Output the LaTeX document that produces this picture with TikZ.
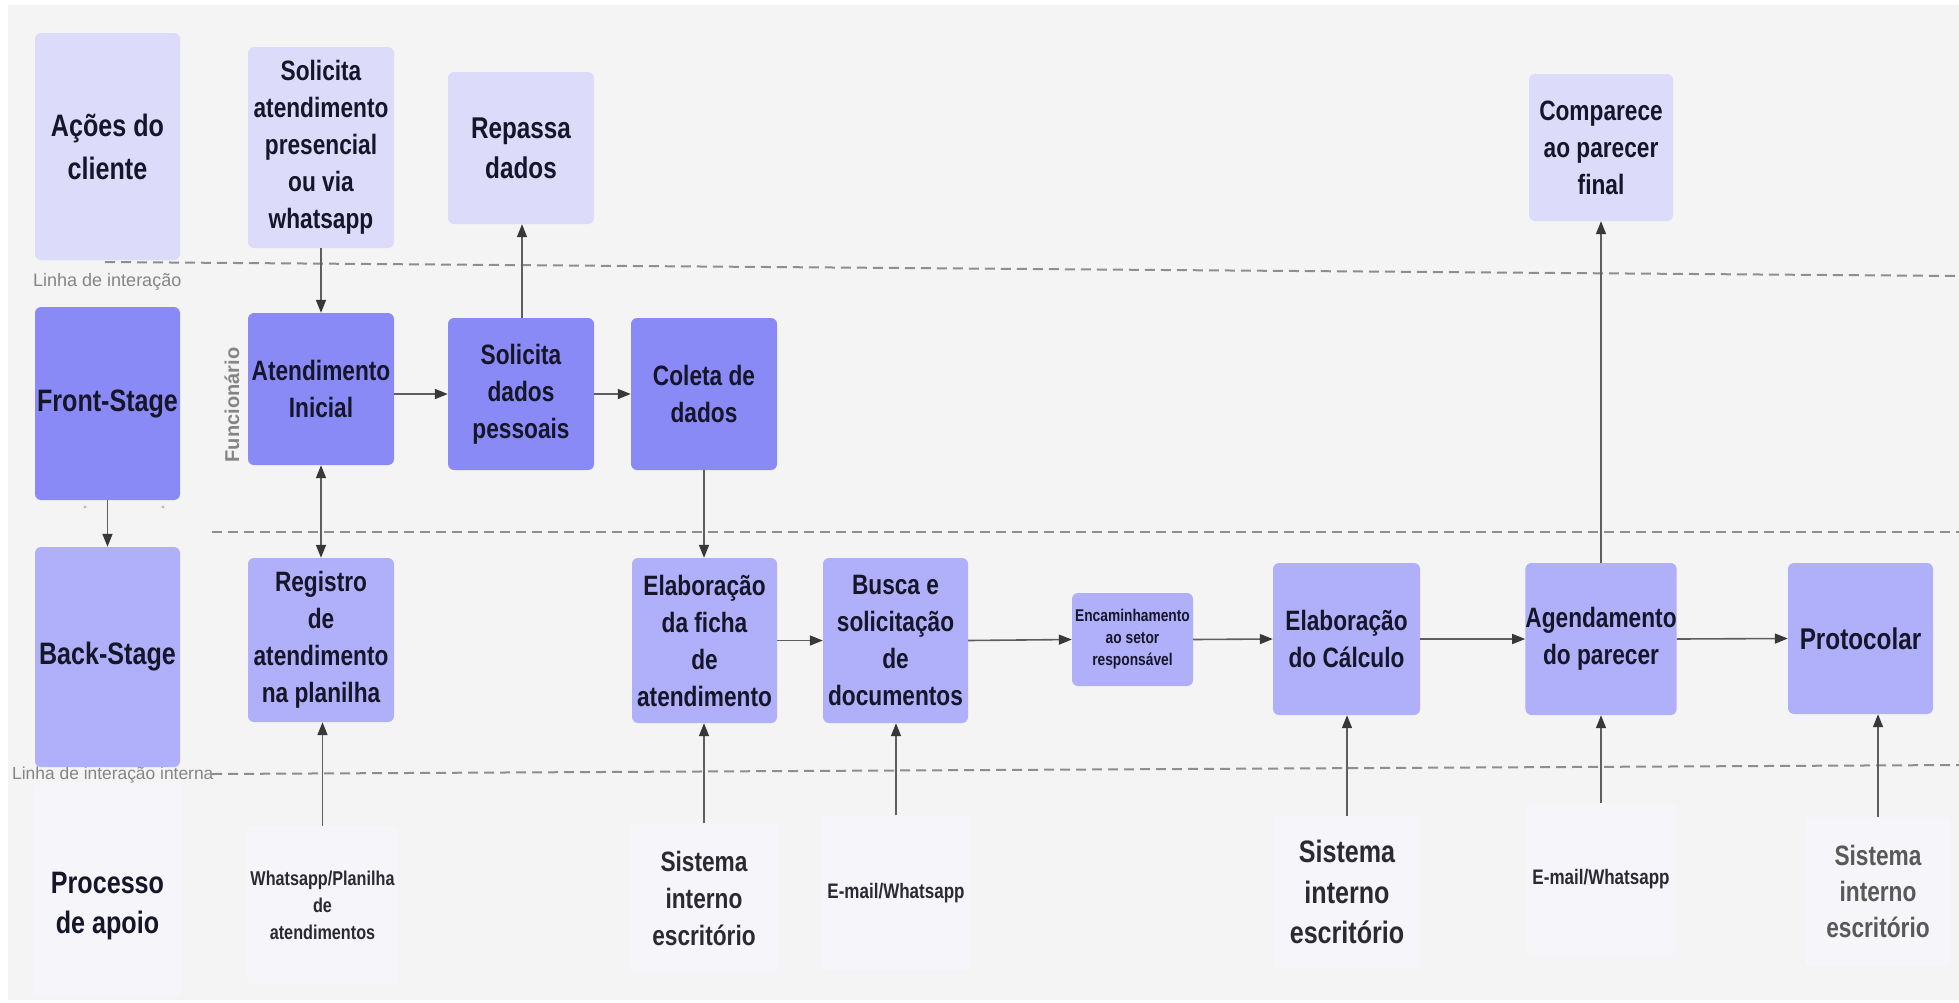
\documentclass[tikz,border=0pt]{standalone}
\usepackage{fontspec}
\setmainfont{Liberation Sans}
\newfontfamily\condfont{Liberation Sans}[FakeStretch=0.81]
\usetikzlibrary{arrows.meta}

\definecolor{canvas}{HTML}{F4F4F4}
\definecolor{clientbox}{HTML}{DCDCFA}
\definecolor{frontbox}{HTML}{8A8AF7}
\definecolor{backbox}{HTML}{B0B0FA}
\definecolor{supportbox}{HTML}{F5F5FA}
\definecolor{ink}{HTML}{16162A}
\definecolor{soft}{HTML}{2A2A30}
\definecolor{lineclr}{HTML}{8E8E8E}
\definecolor{arrowclr}{HTML}{5E5E5E}
\definecolor{tipclr}{HTML}{383838}
\definecolor{caption}{HTML}{858585}

\tikzset{
  box/.style={rectangle, rounded corners=6pt, draw=none, inner sep=0pt,
    align=center, text=ink,
    font=\condfont\bfseries\fontsize{28}{37}\selectfont},
  clientstep/.style={box, fill=clientbox},
  frontstep/.style={box, fill=frontbox},
  backstep/.style={box, fill=backbox},
  lanetitle/.style={box, font=\condfont\bfseries\fontsize{31}{43}\selectfont},
  panel/.style={rectangle, rounded corners=4pt, fill=supportbox, inner sep=0pt,
    align=center, text=soft},
  sepline/.style={draw=lineclr, line width=2pt, dash pattern=on 10pt off 6pt},
  flow/.style={draw=arrowclr, line width=1.6pt,
    -{Triangle[length=13pt,width=10pt,color=tipclr]}},
  twoway/.style={draw=arrowclr, line width=1.6pt,
    {Triangle[length=13pt,width=10pt,color=tipclr]}-{Triangle[length=13pt,width=10pt,color=tipclr]}},
  linelabel/.style={text=caption, inner sep=0pt, anchor=west,
    font=\fontsize{18}{20}\selectfont}
}

\begin{document}
\begin{tikzpicture}[x=1pt, y=-1pt]
  % canvas
  \useasboundingbox[fill=white] (0,0) rectangle (1959,1002);
  \fill[canvas] (8,5) rectangle (1959,1000);

  % lane separators
  \coordinate (l1a) at (105,262);  \coordinate (l1b) at (1959,276);
  \coordinate (l2a) at (212,532);  \coordinate (l2b) at (1959,532);
  \coordinate (l3a) at (212,774);  \coordinate (l3b) at (1959,765);
  \draw[sepline] (l1a) -- (l1b);
  \draw[sepline] (l2a) -- (l2b);
  \draw[sepline] (l3a) -- (l3b);
  \node[linelabel] (lbl1) at (33,282) {Linha de interação};
  \node[linelabel, font=\fontsize{17.4}{20}\selectfont] (lbl2) at (12,775) {Linha de interação interna};

  % lane titles
  \node[lanetitle, fill=clientbox, minimum width=145pt, minimum height=227pt] (acoes) at (107.5,146.5) {Ações do\\cliente};
  \node[lanetitle, fill=frontbox, minimum width=145pt, minimum height=193pt] (front) at (107.5,403.5) {Front-Stage};
  \node[lanetitle, fill=backbox, minimum width=145pt, minimum height=220pt] (back) at (107.5,657) {Back-Stage};
  \node[panel, minimum width=149pt, minimum height=212pt] (apoio) at (107.5,889) {};
  \node[lanetitle, text=ink, font=\condfont\bfseries\fontsize{31}{40}\selectfont] (apoiotxt) at (107.5,906) {Processo\\de apoio};
  \fill[gray!55] (85,507) circle (1.6pt) (163,507) circle (1.6pt);

  \node[rotate=90, text=caption, inner sep=0pt, font=\bfseries\fontsize{20}{24}\selectfont] (func) at (232,405) {Funcionário};

  % customer actions
  \node[clientstep, minimum width=146pt, minimum height=201pt] (solat) at (321,147.5) {Solicita\\atendimento\\presencial\\ou via\\whatsapp};
  \node[clientstep, minimum width=146pt, minimum height=152pt, font=\condfont\bfseries\fontsize{30}{40}\selectfont] (repassa) at (521,148) {Repassa\\dados};
  \node[clientstep, minimum width=144pt, minimum height=147pt] (comparece) at (1601,147.5) {Comparece\\ao parecer\\final};

  % front-stage
  \node[frontstep, minimum width=146pt, minimum height=152pt] (atini) at (321,389) {Atendimento\\Inicial};
  \node[frontstep, minimum width=146pt, minimum height=152pt] (soldados) at (521,394) {Solicita\\dados\\pessoais};
  \node[frontstep, minimum width=146pt, minimum height=152pt] (coleta) at (704,394) {Coleta de\\dados};

  % back-stage
  \node[backstep, minimum width=146pt, minimum height=164pt] (registro) at (321,640) {Registro\\de\\atendimento\\na planilha};
  \node[backstep, minimum width=145pt, minimum height=165pt] (ficha) at (704.5,640.5) {Elaboração\\da ficha\\de\\atendimento};
  \node[backstep, minimum width=145pt, minimum height=165pt] (busca) at (895.5,640.5) {Busca e\\solicitação\\de\\documentos};
  \node[backstep, minimum width=121pt, minimum height=93pt, font=\condfont\bfseries\fontsize{17}{22}\selectfont] (encam) at (1132.5,639.5) {Encaminhamento\\ao setor\\responsável};
  \node[backstep, minimum width=147pt, minimum height=152pt] (calculo) at (1346.5,639) {Elaboração\\do Cálculo};
  \node[backstep, minimum width=146pt, minimum height=152pt] (agenda) at (1601,639) {Agendamento\\do parecer};
  \node[backstep, minimum width=145pt, minimum height=151pt, font=\condfont\bfseries\fontsize{30}{36}\selectfont] (protocolar) at (1860.5,638.5) {Protocolar};

  % support processes
  \node[panel, minimum width=151pt, minimum height=158pt, font=\condfont\bfseries\fontsize{20}{27}\selectfont] (sup1) at (322.5,905) {Whatsapp/Planilha\\de\\atendimentos};
  \node[panel, minimum width=149pt, minimum height=149pt, font=\condfont\bfseries\fontsize{28}{37}\selectfont] (sup2) at (704,898) {Sistema\\interno\\escritório};
  \node[panel, minimum width=150pt, minimum height=155pt, font=\condfont\bfseries\fontsize{21}{26}\selectfont] (sup3) at (896,893) {E-mail/Whatsapp};
  \node[panel, minimum width=146pt, minimum height=152pt, font=\condfont\bfseries\fontsize{31}{40.5}\selectfont] (sup4) at (1347,892) {Sistema\\interno\\escritório};
  \node[panel, minimum width=150pt, minimum height=152pt, font=\condfont\bfseries\fontsize{21}{26}\selectfont] (sup5) at (1601,879) {E-mail/Whatsapp};
  \node[panel, minimum width=146pt, minimum height=149pt, text=black!65, font=\condfont\bfseries\fontsize{28}{36}\selectfont] (sup6) at (1878,891.5) {Sistema\\interno\\escritório};

  % connectors
  \draw[flow] (front.south) -- (back.north);
  \draw[flow] (solat.south) -- (atini.north);
  \draw[twoway] (atini.south) -- (registro.north);
  \draw[flow] (atini.east |- 0,394) -- (soldados.west);
  \draw[flow] (soldados.east) -- (coleta.west);
  \draw[flow] (soldados.north -| 522,0) -- (repassa.south -| 522,0);
  \draw[flow] (coleta.south) -- (ficha.north -| coleta.south);
  \draw[flow] (ficha.east) -- (busca.west);
  \draw[flow] (busca.east) -- (encam.west);
  \draw[flow] (encam.east) -- (calculo.west);
  \draw[flow] (calculo.east) -- (agenda.west);
  \draw[flow] (agenda.east) -- (protocolar.west);
  \draw[flow] (agenda.north) -- (comparece.south);

  \draw[flow] (sup1.north) -- (registro.south -| sup1.north);
  \draw[flow] (sup2.north) -- (ficha.south -| sup2.north);
  \draw[flow] (sup3.north) -- (busca.south -| sup3.north);
  \draw[flow] (sup4.north) -- (calculo.south -| sup4.north);
  \draw[flow] (sup5.north) -- (agenda.south);
  \draw[flow] (sup6.north) -- (protocolar.south -| sup6.north);
\end{tikzpicture}
\end{document}
